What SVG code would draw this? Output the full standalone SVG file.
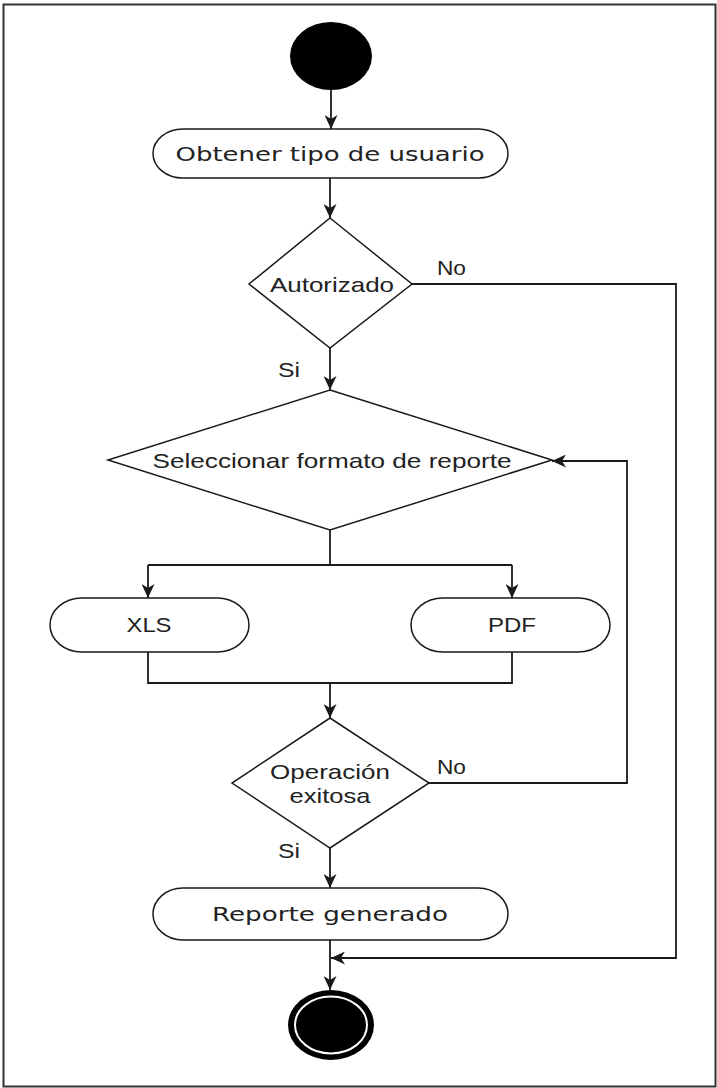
<svg xmlns="http://www.w3.org/2000/svg" width="717" height="1088" viewBox="0 0 717 1088">
  <style>
    .shape { fill: #ffffff; stroke: #1a1a1a; stroke-width: 1.5; }
    .edge { fill: none; stroke: #1a1a1a; stroke-width: 1.8; }
    .lbl { font-family: "Liberation Sans", Arial, sans-serif; font-size: 21px; fill: #222222; }
    .vlbl { font-family: "DejaVu Sans", Verdana, sans-serif; font-size: 20px; fill: #222222; }
  </style>
  <defs>
    <marker id="arrow" markerUnits="userSpaceOnUse" markerWidth="15" markerHeight="13" refX="14" refY="6.5" orient="auto">
      <path d="M0,0 L14,6.5 L0,13 L4,6.5 z" fill="#1a1a1a"/>
    </marker>
  </defs>

  <rect x="0" y="0" width="717" height="1088" fill="#ffffff"/>
  <!-- frame -->
  <rect x="3.5" y="4.5" width="712" height="1082" fill="none" stroke="#333333" stroke-width="2"/>

  <!-- connectors -->
  <g id="connectors">
    <path class="edge" d="M331,90 V129" marker-end="url(#arrow)"/>
    <path class="edge" d="M330,178 V218" marker-end="url(#arrow)"/>
    <path class="edge" d="M330,348 V390" marker-end="url(#arrow)"/>
    <path class="edge" d="M412,284 H676 V958 H331" marker-end="url(#arrow)"/>
    <path class="edge" d="M330,530 V565"/>
    <path class="edge" d="M148,565 H512"/>
    <path class="edge" d="M148,565 V598" marker-end="url(#arrow)"/>
    <path class="edge" d="M512,565 V598" marker-end="url(#arrow)"/>
    <path class="edge" d="M148,652 V683 H512 V652"/>
    <path class="edge" d="M330,683 V718" marker-end="url(#arrow)"/>
    <path class="edge" d="M429,783 H627 V461 H552" marker-end="url(#arrow)"/>
    <path class="edge" d="M330,848 V888" marker-end="url(#arrow)"/>
    <path class="edge" d="M330,940 V990" marker-end="url(#arrow)"/>
    <text class="lbl" x="437" y="275" textLength="29" lengthAdjust="spacingAndGlyphs">No</text>
    <text class="lbl" x="278" y="377" textLength="22" lengthAdjust="spacingAndGlyphs">Si</text>
    <text class="lbl" x="437" y="774" textLength="29" lengthAdjust="spacingAndGlyphs">No</text>
    <text class="lbl" x="278" y="858" textLength="22" lengthAdjust="spacingAndGlyphs">Si</text>
  </g>

  <!-- start -->
  <g id="start">
    <ellipse cx="331" cy="56" rx="41" ry="34" fill="#000000"/>
  </g>

  <g id="obtener-tipo">
    <rect class="shape" x="153" y="129" width="355" height="49" rx="30" ry="24.5"/>
    <text class="vlbl" x="330" y="161" text-anchor="middle" textLength="309" lengthAdjust="spacingAndGlyphs">Obtener tipo de usuario</text>
  </g>

  <g id="autorizado">
    <polygon class="shape" points="330,218 412,284 330,348 249,284"/>
    <text class="lbl" x="332" y="292" text-anchor="middle" textLength="124" lengthAdjust="spacingAndGlyphs">Autorizado</text>
  </g>

  <g id="seleccionar-formato">
    <polygon class="shape" points="330,390 552,460 330,530 108,460"/>
    <text class="lbl" x="332" y="468" text-anchor="middle" textLength="359" lengthAdjust="spacingAndGlyphs">Seleccionar formato de reporte</text>
  </g>

  <g id="xls">
    <rect class="shape" x="50" y="598" width="199" height="54" rx="32" ry="27"/>
    <text class="lbl" x="149" y="632" text-anchor="middle" textLength="45" lengthAdjust="spacingAndGlyphs">XLS</text>
  </g>

  <g id="pdf">
    <rect class="shape" x="411" y="598" width="199" height="54" rx="32" ry="27"/>
    <text class="lbl" x="512" y="632" text-anchor="middle" textLength="48" lengthAdjust="spacingAndGlyphs">PDF</text>
  </g>

  <g id="operacion-exitosa">
    <polygon class="shape" points="330,718 429,783 330,848 232,783"/>
    <text class="lbl" x="330" y="779" text-anchor="middle" textLength="120" lengthAdjust="spacingAndGlyphs">Operación</text>
    <text class="lbl" x="330" y="803" text-anchor="middle" textLength="81" lengthAdjust="spacingAndGlyphs">exitosa</text>
  </g>

  <g id="reporte-generado">
    <rect class="shape" x="153" y="888" width="355" height="52" rx="30" ry="26"/>
    <text class="vlbl" x="330" y="921" text-anchor="middle" textLength="236" lengthAdjust="spacingAndGlyphs">Reporte generado</text>
  </g>

  <!-- end -->
  <g id="end">
    <ellipse cx="331" cy="1025" rx="43" ry="35" fill="#000000"/>
    <ellipse cx="331" cy="1025" rx="36" ry="28.5" fill="none" stroke="#ffffff" stroke-width="2"/>
  </g>
</svg>
